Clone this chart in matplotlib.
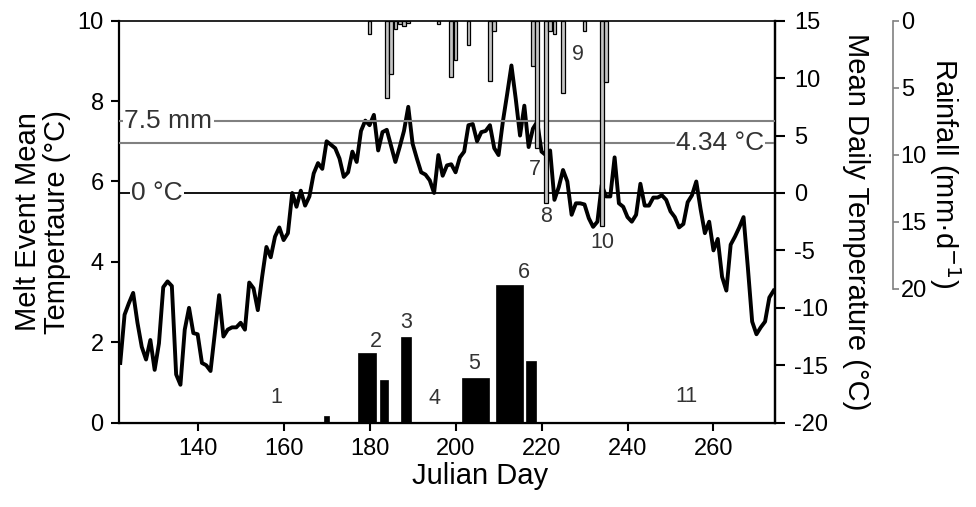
import matplotlib
matplotlib.use('Agg')
import matplotlib.pyplot as plt
import numpy as np

plt.rcParams['font.family'] = ['Liberation Sans', 'DejaVu Sans']

# daily mean air temperature (°C), Julian day 122-274
days = np.arange(122, 275)
mean_temp = [
    -14.8, -10.6, -9.6, -8.7, -11.3, -13.4, -14.5, -12.8, -15.4, -13.1,
    -8.2, -7.7, -8.1, -15.8, -16.7, -11.9, -10.0, -12.2, -12.3, -14.8,
    -15.0, -15.5, -12.2, -8.9, -12.5, -11.9, -11.7, -11.7, -11.3, -11.9,
    -7.8, -8.3, -10.2, -7.3, -4.7, -5.6, -3.8, -3.0, -4.1, -3.5,
    0.0, -1.2, 0.2, -1.1, -0.3, 1.7, 2.6, 2.1, 4.5, 4.2,
    3.9, 3.0, 1.4, 1.8, 3.6, 2.7, 5.4, 6.3, 5.9, 6.8,
    3.7, 5.3, 5.5, 4.1, 2.7, 4.0, 5.4, 7.5, 4.3, 3.0,
    1.8, 1.6, 1.1, 0.0, 3.3, 1.5, 2.4, 2.5, 1.8, 3.1,
    3.6, 5.9, 6.0, 4.5, 5.3, 5.4, 5.9, 3.9, 3.3, 6.2,
    8.6, 11.1, 8.2, 5.0, 7.6, 4.0, 5.6, 6.2, 3.6, 3.3,
    3.7, -0.6, 0.5, 2.0, 1.0, -1.9, -0.9, -0.9, -1.0, -2.2,
    -2.95, -2.5, 0.7, -0.3, -0.3, 3.1, -0.9, -1.2, -2.1, -2.5,
    -1.9, 0.8, -1.1, -1.1, -0.4, -0.4, -0.2, -0.6, -1.6, -2.1,
    -3.0, -2.7, -0.8, -0.2, 1.0, -1.4, -3.5, -2.5, -5.0, -4.0,
    -7.3, -8.5, -4.5, -3.8, -3.0, -2.1, -6.5, -11.2, -12.3, -11.7,
    -11.2, -9.1, -8.5,
]

# daily rainfall (mm/d)
rain_days = [180, 184, 185, 186, 187, 188, 189, 196, 199, 200, 203,
             208, 209, 218, 219, 221, 222, 223, 225, 230, 234, 235]
rain_mm = [1.0, 5.8, 4.0, 0.6, 0.25, 0.4, 0.2, 0.25, 4.2, 2.9, 1.8,
           4.5, 0.75, 3.35, 9.5, 13.6, 0.8, 1.0, 5.4, 0.75, 15.3, 4.6]

# melt events: first/last day and mean temperature (°C)
melt_start = [169.4, 177.4, 182.4, 187.3, 201.4, 209.3, 216.3]
melt_end = [170.6, 181.6, 184.4, 189.6, 207.7, 215.7, 218.7]
melt_temp = [0.17, 1.73, 1.06, 2.12, 1.12, 3.42, 1.53]

# period numbers and where they are written (day, left-axis value)
period_ids = ['1', '2', '3', '4', '5', '6', '7', '8', '9', '10', '11']
period_day = [158.3, 181.5, 188.4, 195.2, 204.3, 215.9, 218.4, 221.0, 228.4, 234.2, 253.7]
period_y = [0.63, 2.01, 2.48, 0.61, 1.47, 3.73, 6.29, 5.13, 9.16, 4.48, 0.65]

rain_limit = 7.5
temp_limit = 4.34
freezing = 0.0

fig = plt.figure(figsize=(9.76, 5.07), dpi=100)
ax = fig.add_axes([0.1219, 0.1663, 0.6721, 0.7929])
ax2 = ax.twinx()
ax3 = ax.twinx()

# melt event bars
widths = [e - s for s, e in zip(melt_start, melt_end)]
ax.bar(melt_start, melt_temp, width=widths, align='edge', color='black',
       edgecolor='black', linewidth=0.5, zorder=2)
for lab, d, v in zip(period_ids, period_day, period_y):
    ax.text(d, v, lab, ha='center', va='center', fontsize=15.5, color='#333333', zorder=6)

ax.set_xlim(121.7, 274.3)
ax.set_ylim(0, 10)
ax.set_xticks(np.arange(140, 261, 20))
ax.set_yticks(np.arange(0, 11, 2))
ax.set_xlabel('Julian Day', fontsize=21, va='top', ha='center')
ax.xaxis.set_label_coords(0.55, -0.097)
ax.set_ylabel('Melt Event Mean\nTempertaure (°C)', fontsize=21, linespacing=1.05,
              va='center', ha='center')
ax.yaxis.set_label_coords(-0.117, 0.5)
ax.tick_params(axis='both', direction='out', length=6, width=1.5, labelsize=17, pad=5)
for s in ['left', 'bottom', 'right']:
    ax.spines[s].set_linewidth(1.6)
ax.spines['top'].set_linewidth(1.2)

# daily temperature line
ax2.plot(days, mean_temp, color='black', lw=2.8, zorder=3)
ax2.axhline(freezing, color='black', lw=1.3, zorder=1)
ax2.axhline(temp_limit, color='#808080', lw=1.5, zorder=1)
ax2.text(130.6, freezing, '0 °C', ha='center', va='center', fontsize=19, color='#333333',
         bbox=dict(facecolor='white', edgecolor='none', pad=1), zorder=4)
ax2.text(261.5, temp_limit, '4.34 °C', ha='center', va='center', fontsize=19, color='#333333',
         bbox=dict(facecolor='white', edgecolor='none', pad=1), zorder=4)
ax2.set_ylim(-20, 15)
ax2.set_yticks(np.arange(-20, 16, 5))
ax2.set_yticklabels([f'{t:d}' for t in np.arange(-20, 16, 5)])
ax2.tick_params(axis='y', direction='out', length=7, width=1.5, labelsize=17, pad=7)
ax2.spines['right'].set_linewidth(1.6)
ax2.spines['top'].set_visible(False)
ax2.spines['left'].set_visible(False)
ax2.set_ylabel('Mean Daily Temperature (°C)', fontsize=21, rotation=270,
               va='center', ha='center')
ax2.yaxis.set_label_coords(1.1235, 0.5)

# rainfall bars hanging from the top
ax3.bar(rain_days, rain_mm, width=0.85, color='#c4c4c4', edgecolor='black',
        linewidth=0.9, zorder=2)
ax3.axhline(rain_limit, color='#808080', lw=1.5, zorder=1)
ax3.text(133.2, rain_limit, '7.5 mm', ha='center', va='center', fontsize=19, color='#333333',
         bbox=dict(facecolor='white', edgecolor='none', pad=1), zorder=4)
ax3.set_ylim(30, 0)
ax3.set_yticks([0, 5, 10, 15, 20])
ax3.spines['right'].set_position(('axes', 1.18))
ax3.spines['right'].set_bounds(0, 20)
ax3.spines['right'].set_color('#808080')
ax3.spines['right'].set_linewidth(1.2)
for s in ['top', 'left', 'bottom']:
    ax3.spines[s].set_visible(False)
ax3.tick_params(axis='y', direction='out', length=4, width=1.2, color='#808080',
                labelcolor='black', labelsize=17, pad=1.5)
ax3.set_ylabel('Rainfall (mm·d$^{-1}$)', fontsize=21, rotation=270, va='center', ha='center')
ax3.yaxis.set_label_coords(1.259, 0.62)

fig.savefig('out.png', dpi=100)
